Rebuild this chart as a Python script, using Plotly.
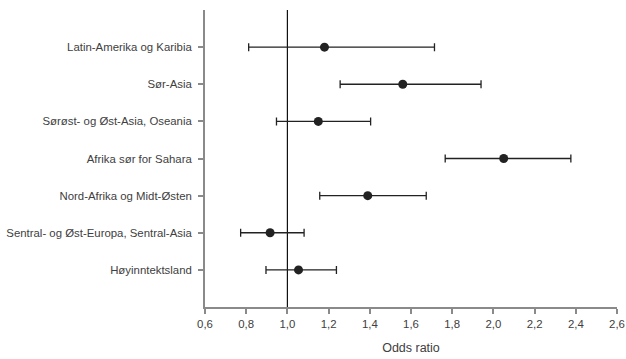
import plotly.graph_objects as go

# Regions, listed top to bottom as drawn
regions = [
    "Latin-Amerika og Karibia",
    "Sør-Asia",
    "Sørøst- og Øst-Asia, Oseania",
    "Afrika sør for Sahara",
    "Nord-Afrika og Midt-Østen",
    "Sentral- og Øst-Europa, Sentral-Asia",
    "Høyinntektsland",
]
odds_ratio = [1.18, 1.56, 1.15, 2.05, 1.39, 0.916, 1.054]
ci_low = [0.812, 1.256, 0.947, 1.766, 1.157, 0.773, 0.896]
ci_high = [1.714, 1.940, 1.404, 2.376, 1.674, 1.081, 1.238]

x_ticks = [0.6, 0.8, 1.0, 1.2, 1.4, 1.6, 1.8, 2.0, 2.2, 2.4, 2.6]
x_tick_text = [f"{v:.1f}".replace(".", ",") for v in x_ticks]

err_plus = [h - o for h, o in zip(ci_high, odds_ratio)]
err_minus = [o - l for o, l in zip(odds_ratio, ci_low)]

text_color = "#404040"
axis_color = "#8a8a8a"
mark_color = "#222222"

fig = go.Figure()
fig.add_trace(
    go.Scatter(
        x=odds_ratio,
        y=regions,
        mode="markers",
        marker=dict(size=9, color=mark_color),
        error_x=dict(
            type="data",
            symmetric=False,
            array=err_plus,
            arrayminus=err_minus,
            color=mark_color,
            thickness=1.3,
            width=4,
        ),
        showlegend=False,
    )
)

# Reference line at odds ratio 1
fig.add_shape(
    type="line", xref="x", yref="paper", x0=1.0, x1=1.0, y0=0, y1=1,
    line=dict(color="#111111", width=1.2), layer="below",
)

fig.update_layout(
    width=626,
    height=359,
    margin=dict(l=205, r=9, t=10, b=52),
    paper_bgcolor="white",
    plot_bgcolor="white",
    font=dict(family="Liberation Sans, Arial, sans-serif", size=11.4, color=text_color),
    xaxis=dict(
        range=[0.6, 2.6],
        tickvals=x_ticks,
        ticktext=x_tick_text,
        automargin=False,
        showgrid=False,
        zeroline=False,
        showline=True,
        linecolor=axis_color,
        linewidth=1.8,
        ticks="outside",
        ticklen=5,
        tickcolor=axis_color,
        tickwidth=1.5,
        title=dict(text="Odds ratio", font=dict(size=12.5, color=text_color), standoff=15),
    ),
    yaxis=dict(
        type="category",
        categoryorder="array",
        categoryarray=regions[::-1],
        range=[-1, 7],
        automargin=False,
        showgrid=False,
        zeroline=False,
        showline=True,
        linecolor=axis_color,
        linewidth=1.8,
        ticks="outside",
        ticklen=5,
        tickcolor=axis_color,
        tickwidth=1.5,
        ticklabelstandoff=4,
    ),
)

fig.write_html("out.html")
